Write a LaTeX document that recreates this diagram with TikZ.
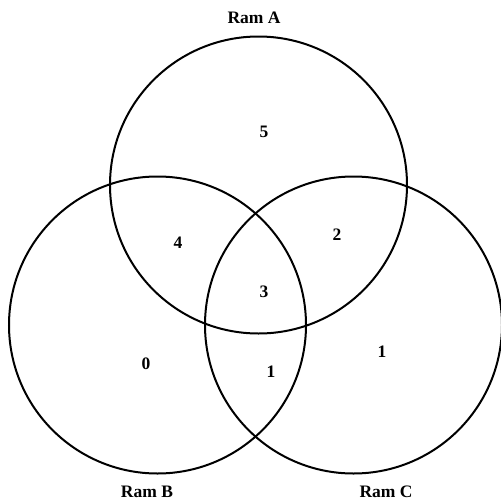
\documentclass[tikz,border=0pt]{standalone}
\usepackage{fontspec}
\setmainfont{Liberation Serif}
\usetikzlibrary{positioning}

\begin{document}
\begin{tikzpicture}[x=1pt,y=-1pt,semithick,
    ring/.style={circle,draw,line width=2pt,inner sep=0pt,minimum size=297pt},
    setname/.style={font=\fontsize{17.5}{20}\selectfont\bfseries},
    count/.style={font=\fontsize{17.5}{20}\selectfont\bfseries}]
  \useasboundingbox (0,0) rectangle (501,504);
  \node[ring] (ramA) at (258.5,185) {};
  \node[ring] (ramB) at (157.5,325) {};
  \node[ring] (ramC) at (353.5,325) {};
  \node[setname] (nameA) at (254,18) {Ram A};
  \node[setname] (nameB) at (147,492) {Ram B};
  \node[setname] (nameC) at (386,492) {Ram C};
  \node[count] (onlyA) at (264,132) {5};
  \node[count] (ab) at (178,243) {4};
  \node[count] (ac) at (337,235) {2};
  \node[count] (abc) at (264,292) {3};
  \node[count] (onlyB) at (146,364) {0};
  \node[count] (bc) at (271,372) {1};
  \node[count] (onlyC) at (382,352) {1};
\end{tikzpicture}
\end{document}
